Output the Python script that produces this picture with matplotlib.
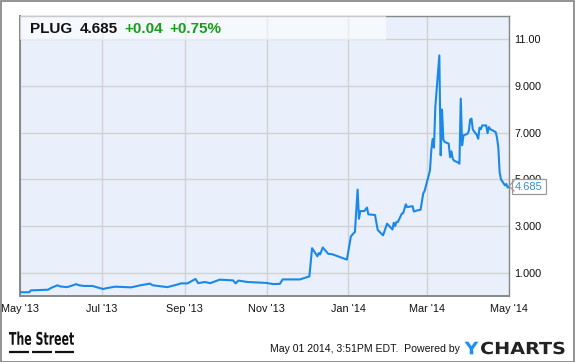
import numpy as np
import pandas as pd
import matplotlib
matplotlib.use("Agg")
import matplotlib.pyplot as plt
from matplotlib.lines import Line2D
from matplotlib.patches import Rectangle, PathPatch
from matplotlib.textpath import TextPath
from matplotlib.font_manager import FontProperties
from matplotlib.transforms import Affine2D

# =============================================================================
# Datos (PLUG, may 2013 - may 2014)
# =============================================================================
fechas = [
    "2013-05-01", "2013-05-08", "2013-05-09", "2013-05-22", "2013-05-24",
    "2013-05-29", "2013-05-31", "2013-06-05", "2013-06-07", "2013-06-12",
    "2013-06-14", "2013-06-18", "2013-06-24", "2013-07-02", "2013-07-05",
    "2013-07-11", "2013-07-23", "2013-07-30", "2013-08-02", "2013-08-06",
    "2013-08-08", "2013-08-19", "2013-08-27", "2013-08-29", "2013-09-03",
    "2013-09-09", "2013-09-11", "2013-09-16", "2013-09-20", "2013-09-27",
    "2013-10-07", "2013-10-09", "2013-10-11", "2013-10-18", "2013-10-25",
    "2013-11-01", "2013-11-06", "2013-11-11", "2013-11-13", "2013-11-18",
    "2013-11-26", "2013-12-03", "2013-12-05", "2013-12-09", "2013-12-10",
    "2013-12-11", "2013-12-13", "2013-12-17", "2013-12-20", "2013-12-31",
    "2014-01-03", "2014-01-06", "2014-01-08", "2014-01-09", "2014-01-10",
    "2014-01-13", "2014-01-15", "2014-01-16", "2014-01-21", "2014-01-23",
    "2014-01-27", "2014-01-30", "2014-02-03", "2014-02-04", "2014-02-05",
    "2014-02-06", "2014-02-07", "2014-02-10", "2014-02-11", "2014-02-13",
    "2014-02-14", "2014-02-18", "2014-02-19", "2014-02-21", "2014-02-24",
    "2014-02-26", "2014-02-27", "2014-03-03", "2014-03-04", "2014-03-05",
    "2014-03-06", "2014-03-07", "2014-03-10", "2014-03-11", "2014-03-12",
    "2014-03-13", "2014-03-14", "2014-03-17", "2014-03-18", "2014-03-19",
    "2014-03-20", "2014-03-21", "2014-03-24", "2014-03-25", "2014-03-26",
    "2014-03-27", "2014-03-28", "2014-03-31", "2014-04-01", "2014-04-02",
    "2014-04-03", "2014-04-04", "2014-04-07", "2014-04-08", "2014-04-09",
    "2014-04-10", "2014-04-11", "2014-04-14", "2014-04-15", "2014-04-16",
    "2014-04-17", "2014-04-21", "2014-04-22", "2014-04-23", "2014-04-24",
    "2014-04-25", "2014-04-28", "2014-04-29", "2014-04-30", "2014-05-01",
]
precios = [
    0.16, 0.16, 0.24, 0.27, 0.34,
    0.46, 0.41, 0.38, 0.41, 0.51,
    0.46, 0.43, 0.43, 0.30, 0.34,
    0.40, 0.37, 0.46, 0.49, 0.53,
    0.46, 0.38, 0.50, 0.54, 0.54,
    0.73, 0.55, 0.60, 0.55, 0.70,
    0.67, 0.54, 0.66, 0.60, 0.58,
    0.56, 0.51, 0.52, 0.71, 0.71,
    0.71, 0.84, 2.05, 1.70, 1.84,
    1.78, 2.08, 1.81, 1.79, 1.56,
    2.56, 2.75, 4.56, 3.31, 3.64,
    3.64, 3.79, 3.50, 3.47, 2.83,
    2.60, 3.10, 2.85, 3.14, 3.00,
    3.17, 3.17, 3.53, 3.55, 3.93,
    3.81, 3.85, 3.62, 3.66, 3.70,
    4.40, 4.50, 5.38, 6.24, 6.73,
    6.36, 8.10, 10.31, 6.03, 7.99,
    6.70, 6.60, 6.53, 5.95, 6.20,
    5.89, 5.80, 5.72, 5.67, 8.46,
    6.46, 6.88, 6.95, 7.07, 7.56,
    7.60, 7.13, 6.90, 6.74, 7.21,
    7.15, 7.31, 7.31, 6.98, 7.24,
    7.15, 7.03, 6.80, 6.38, 5.31,
    5.00, 4.74, 4.80, 4.65, 4.685,
]

ticks_x = ["2013-05-01", "2013-07-01", "2013-09-01", "2013-11-01",
           "2014-01-01", "2014-03-01", "2014-05-01"]
etiquetas_x = ["May '13", "Jul '13", "Sep '13", "Nov '13",
               "Jan '14", "Mar '14", "May '14"]
ticks_y = [1, 3, 5, 7, 9, 11]
etiquetas_y = ["1.000", "3.000", "5.000", "7.000", "9.000", "11.00"]

ticker = "PLUG"
ultimo = "4.685"
cambio = "+0.04"
cambio_pct = "+0.75%"
pie = "May 01 2014, 3:51PM EDT.  Powered by"

# =============================================================================
# Grafica
# =============================================================================
plt.rcParams['font.family'] = ['Liberation Sans', 'DejaVu Sans']

W, H = 575, 362
fig = plt.figure(figsize=(W / 100, H / 100), dpi=100)
fig.patch.set_facecolor('white')

def fx(px): return px / W
def fy(py): return 1 - py / H

def logo(texto, x0, x1, y_sup, y_inf, color):
    """Texto como trazo, estirado para llenar la caja (en pixeles)."""
    tp = TextPath((0, 0), texto, size=20,
                  prop=FontProperties(family='DejaVu Sans', weight='bold'))
    ext = tp.get_extents()
    sx = (fx(x1) - fx(x0)) / ext.width
    sy = (fy(y_sup) - fy(y_inf)) / ext.height
    tr = Affine2D().translate(-ext.x0, -ext.y0).scale(sx, sy).translate(fx(x0), fy(y_inf))
    fig.patches.append(PathPatch(tp, transform=tr + fig.transFigure,
                                 facecolor=color, edgecolor='none'))

ax = fig.add_axes([fx(20), fy(296), fx(509) - fx(20), fy(16) - fy(296)])
ax.set_facecolor('#e9f0fb')

fechas_dt = pd.to_datetime(fechas)
ax.plot(fechas_dt, precios, color='#1a88e8', linewidth=1.5, zorder=3)

ax.set_xlim(pd.Timestamp("2013-05-01"), pd.Timestamp("2014-05-01"))
ax.set_ylim(0, 12)

ax.set_xticks(pd.to_datetime(ticks_x))
ax.set_xticklabels(etiquetas_x, fontsize=7.8, color='#111111')
ax.yaxis.tick_right()
ax.set_yticks(ticks_y)
ax.set_yticklabels(etiquetas_y, fontsize=7.8, color='#111111')
ax.tick_params(axis='both', length=0)
ax.tick_params(axis='x', pad=6)
ax.tick_params(axis='y', pad=4)

ax.grid(True, color='#d2d2d2', linewidth=1)
ax.set_axisbelow(True)
for lado in ['left', 'bottom', 'top', 'right']:
    ax.spines[lado].set_color('#888888')
    ax.spines[lado].set_linewidth(1.0)
ax.spines['left'].set_linewidth(1.4)
ax.spines['bottom'].set_linewidth(1.4)

# Banda del encabezado
ax.add_patch(Rectangle((fx(20), fy(40)), fx(386) - fx(20), fy(16) - fy(40),
                       transform=fig.transFigure, facecolor='white', alpha=0.55,
                       edgecolor='none', zorder=4))
y_enc = fy(29)
fig.text(fx(30), y_enc, ticker, fontsize=11, fontweight='bold', color='#111111', va='center')
fig.text(fx(80), y_enc, ultimo, fontsize=11, fontweight='bold', color='#111111', va='center')
fig.text(fx(124), y_enc, cambio, fontsize=11, fontweight='bold', color='#16a016', va='center')
fig.text(fx(169), y_enc, cambio_pct, fontsize=11, fontweight='bold', color='#16a016', va='center')

# Etiqueta del ultimo valor
fig.text(fx(515), fy(186.5), ultimo, fontsize=8, color='#2a8fe0', va='center', ha='left',
         zorder=10,
         bbox=dict(boxstyle='square,pad=0.25', facecolor='white', edgecolor='#999999',
                   linewidth=0.9))
fig.lines.append(Line2D([fx(514), fx(509), fx(514)], [fy(181), fy(186), fy(191)],
                        transform=fig.transFigure, color='#999999', linewidth=0.9,
                        zorder=11))

# Pie de pagina: logos
logo("The Street", 9, 74, 331.5, 345, '#111111')
for x0, x1 in [(9, 29), (32, 52), (55, 74)]:
    fig.lines.append(Line2D([fx(x0), fx(x1)], [fy(351.5), fy(351.5)],
                            transform=fig.transFigure, color='#111111', linewidth=1.6,
                            solid_capstyle='butt'))

fig.text(fx(460), fy(349.5), pie, fontsize=7.6, color='#111111', ha='right', va='center')
logo("Y", 464.5, 478.5, 341.7, 354.3, '#1e90ef')
logo("CHARTS", 481, 564.5, 341.7, 354.3, '#222222')

# Borde exterior
fig.patches.append(Rectangle((0.5 / W, 0.5 / H), 1 - 1.5 / W, 1 - 1.5 / H,
                             transform=fig.transFigure, fill=False,
                             edgecolor='#808080', linewidth=1.2))

fig.savefig("out.png", dpi=100)
